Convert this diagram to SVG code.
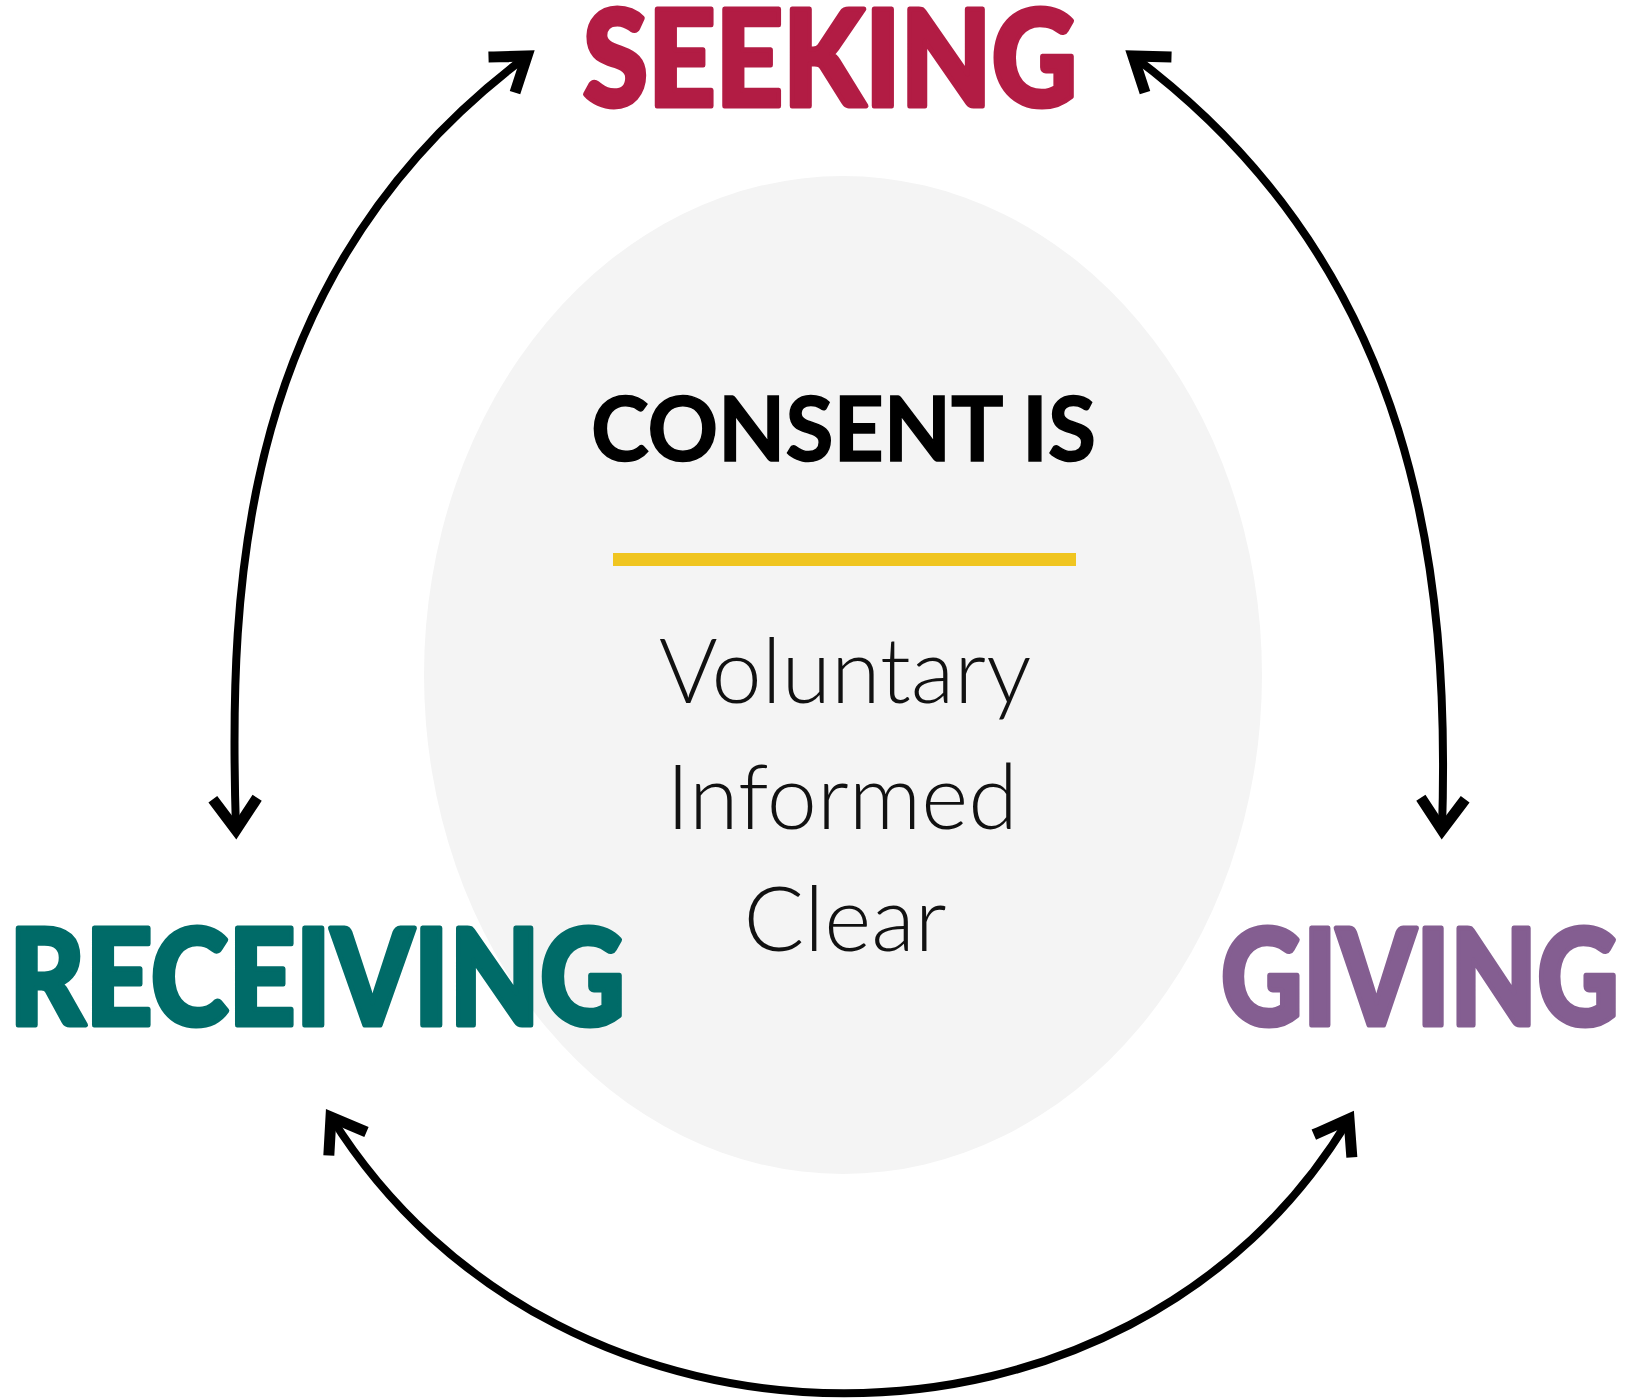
<svg xmlns="http://www.w3.org/2000/svg" width="1625" height="1399" viewBox="0 0 1625 1399">
  <style>
    .title { font-family: Lato, "Liberation Sans", "DejaVu Sans", sans-serif; font-weight: 900; stroke-width: 5; stroke-linejoin: round; }
    .head { font-family: Lato, "Liberation Sans", sans-serif; font-weight: 700; fill: #000; stroke: #000; stroke-width: 1.5; }
    .item { font-family: Lato, "Open Sans", "Liberation Sans", sans-serif; font-weight: 300; fill: #111; text-anchor: middle; }
    .conn { fill: none; stroke: #000; stroke-width: 8; stroke-linecap: butt; }
  </style>
  <defs>
    <!-- compact heavy chevron used at both ends of every connector -->
    <marker id="chev" markerUnits="userSpaceOnUse" viewBox="-45 -30 60 60" refX="0" refY="0" markerWidth="60" markerHeight="60" orient="auto-start-reverse">
      <path d="M -27 -19 L 0 0 L -27 19" fill="none" stroke="#000" stroke-width="11" stroke-linejoin="miter" stroke-miterlimit="6" stroke-linecap="square"/>
    </marker>
  </defs>

  <rect width="1625" height="1399" fill="#fff"/>

  <!-- central disc -->
  <g id="center">
    <ellipse cx="843" cy="675" rx="419" ry="499" fill="#f4f4f4"/>
    <text class="head" x="591" y="461" font-size="90" textLength="505" lengthAdjust="spacingAndGlyphs">CONSENT IS</text>
    <rect x="613" y="553" width="463" height="13" fill="#f0c520"/>
    <text class="item" x="845" y="703" font-size="90">Voluntary</text>
    <text class="item" x="842" y="829" font-size="90">Informed</text>
    <text class="item" x="845" y="951" font-size="90">Clear</text>
  </g>

  <g id="seeking">
    <text class="title" x="583" y="106" font-size="134" fill="#b21c44" stroke="#b21c44" textLength="494" lengthAdjust="spacingAndGlyphs">SEEKING</text>
  </g>
  <g id="receiving">
    <text class="title" x="9" y="1025" font-size="134" fill="#006b68" stroke="#006b68" textLength="616" lengthAdjust="spacingAndGlyphs">RECEIVING</text>
  </g>
  <g id="giving">
    <text class="title" x="1221" y="1025" font-size="134" fill="#845e91" stroke="#845e91" textLength="398" lengthAdjust="spacingAndGlyphs">GIVING</text>
  </g>

  <!-- double-headed curved connectors -->
  <g id="connectors">
    <path class="conn" d="M 236 830 C 228 580, 240 270, 527 56" marker-start="url(#chev)" marker-end="url(#chev)"/>
    <path class="conn" d="M 1442 830 C 1450 580, 1420 270, 1133 56" marker-start="url(#chev)" marker-end="url(#chev)"/>
    <path class="conn" d="M 331 1117 C 560 1485, 1130 1485, 1349 1119" marker-start="url(#chev)" marker-end="url(#chev)"/>
  </g>
</svg>
